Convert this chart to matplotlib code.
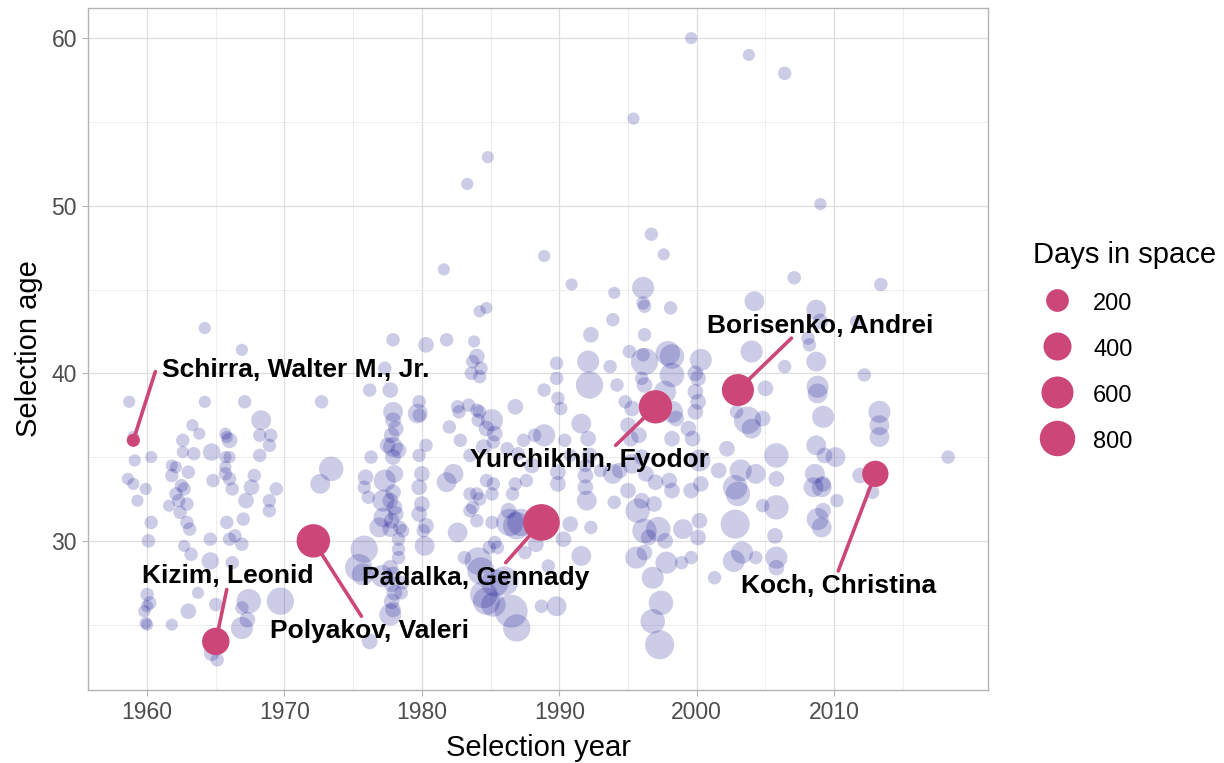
import matplotlib
matplotlib.use("Agg")
from matplotlib import pyplot as plt
from matplotlib.lines import Line2D
import numpy as np

plt.rcParams['font.family'] = ['Liberation Sans', 'DejaVu Sans']

# all astronauts (grouped roughly by era)
year = [
    1958.7, 1959.0, 1959.1, 1960.3, 1958.6, 1959.0, 1959.9, 1959.3, 1960.3, 1960.1, 1960.0, 1960.2, 1959.8, 1960.0, 1960.0, 1959.9,
    1964.2, 1966.9, 1964.2, 1967.1, 1968.3, 1963.3, 1963.8, 1965.7, 1966.0, 1965.8, 1968.2, 1969.0, 1968.9, 1962.6, 1962.6, 1963.4,
    1964.7, 1965.7, 1966.0, 1968.2, 1962.1, 1965.7, 1961.8, 1961.8, 1963.0, 1962.5, 1962.7, 1962.1, 1962.3, 1961.6, 1962.9, 1962.4,
    1962.9, 1963.1, 1964.6, 1966.0, 1966.4, 1966.9, 1965.8, 1967.0, 1962.7, 1963.2, 1964.6, 1966.2, 1964.8, 1965.7, 1966.0, 1966.2,
    1967.6, 1967.8, 1967.2, 1968.9, 1968.9, 1969.4, 1967.4, 1969.7, 1966.9, 1967.3, 1966.9, 1965.0, 1963.7, 1963.0, 1961.8, 1965.1,
    1964.7,
    1972.7, 1973.4, 1972.6, 1975.8, 1975.4, 1975.7, 1977.1, 1977.7, 1976.2, 1975.9, 1975.8, 1976.1, 1977.3, 1977.9, 1977.7, 1976.2,
    1977.9, 1977.9, 1978.1, 1977.8, 1977.9, 1978.3, 1977.5, 1977.9, 1978.0, 1977.9, 1977.7, 1978.0, 1978.1, 1977.8, 1977.7, 1978.4,
    1977.3, 1977.2, 1977.2, 1976.9, 1978.6, 1978.3, 1978.3, 1978.3, 1977.7, 1977.9, 1977.8, 1978.0, 1977.8, 1977.9, 1978.6, 1978.5,
    1976.3, 1979.8, 1979.7, 1979.8, 1980.3, 1979.8, 1980.3, 1980.0, 1979.8, 1980.0, 1979.8, 1980.3, 1980.1, 1980.2,
    1981.6, 1984.2, 1984.7, 1981.8, 1983.8, 1984.0, 1983.7, 1984.3, 1983.6, 1984.2, 1982.0, 1982.6, 1982.7, 1983.4, 1984.0, 1984.1,
    1984.2, 1985.1, 1984.7, 1985.3, 1986.8, 1987.4, 1988.2, 1984.8, 1983.3, 1981.8, 1982.3, 1982.6, 1983.1, 1983.5, 1984.0, 1984.2,
    1983.7, 1983.5, 1984.7, 1985.2, 1985.1, 1984.0, 1985.1, 1984.9, 1985.3, 1984.1, 1984.3, 1985.3, 1984.5, 1984.7, 1985.2, 1986.0,
    1986.5, 1986.9, 1986.4, 1986.9, 1987.2, 1986.3, 1985.5, 1986.8, 1986.6, 1987.6, 1988.9, 1988.9, 1989.8, 1989.8, 1989.9, 1990.1,
    1988.9, 1989.9, 1989.9, 1990.3, 1989.8, 1988.7, 1989.2, 1982.8, 1983.5, 1984.5, 1985.2, 1986.2, 1987.0, 1988.0, 1988.3, 1987.5,
    1990.9, 1994.0, 1996.1, 1996.2, 1996.1, 1998.1, 1993.9, 1992.3, 1996.2, 1995.1, 1992.1, 1993.7, 1996.2, 1996.1, 1997.9, 1998.2,
    2000.3, 1994.2, 1992.2, 1996.0, 1996.2, 1998.2, 1999.9, 2000.1, 1994.8, 1995.3, 1997.7, 1998.2, 1998.5, 1999.9, 2000.1, 1999.9,
    1991.6, 1992.1, 1995.0, 1995.2, 1995.8, 1998.2, 1999.4, 1999.7, 1995.4, 1996.7, 1997.6, 1999.6, 1991.9, 1991.9, 1992.0, 1993.9,
    1994.0, 1995.7, 1996.0, 1996.9, 1996.2, 1997.2, 1996.5, 1997.7, 1995.6, 1996.2, 1996.8, 1997.8, 1997.4, 1996.8, 1997.3, 1999.0,
    2000.2, 2000.1, 1998.9, 1999.6, 1998.2, 1998.0, 1990.4, 1990.8, 1992.2, 1991.9, 1993.0, 1994.4, 1995.3, 1996.3, 1997.0, 1995.0,
    1996.0, 1991.6, 1992.3, 1990.8,
    2003.8, 2006.4, 2009.0, 2007.1, 2013.4, 2004.2, 2008.7, 2009.0, 2011.6, 2008.1, 2008.2, 2004.0, 2008.7, 2006.4, 2012.2, 2008.8,
    2008.8, 2009.2, 2013.3, 2013.3, 2013.3, 2008.7, 2005.8, 2009.3, 2010.1, 2018.3, 2005.0, 2004.8, 2002.9, 2003.7, 2004.0, 2005.8,
    2005.8, 2005.7, 2005.8, 2005.8, 2008.5, 2009.1, 2009.2, 2008.6, 2009.2, 2008.8, 2009.1, 2010.2, 2011.9, 2012.8, 2001.3, 2002.8,
    2003.3, 2002.7, 2004.3, 2003.0, 2002.8, 2004.8, 2000.3, 1999.6, 2000.2, 2001.6, 2003.2, 2004.3, 2002.2,
]
age = [
    38.3, 36.2, 34.8, 35.0, 33.7, 33.4, 33.1, 32.4, 31.1, 30.0, 26.8, 26.3, 25.8, 25.0, 26.1, 25.1,
    42.7, 41.4, 38.3, 38.3, 37.2, 36.9, 36.4, 36.4, 36.0, 36.2, 36.3, 36.3, 35.7, 36.0, 35.3, 35.2,
    35.3, 35.0, 35.0, 35.1, 34.4, 34.4, 33.9, 34.5, 34.1, 33.3, 33.1, 32.8, 32.4, 32.1, 32.2, 31.7,
    31.1, 30.7, 30.1, 30.1, 30.3, 29.8, 31.1, 31.3, 29.7, 29.2, 28.8, 28.7, 33.6, 34.0, 33.7, 33.1,
    33.2, 33.9, 32.4, 32.4, 31.8, 33.1, 26.4, 26.4, 24.8, 25.3, 26.0, 26.2, 26.9, 25.8, 25.0, 22.9,
    23.3,
    38.3, 34.3, 33.4, 29.5, 28.4, 28.0, 27.9, 25.6, 24.0, 33.8, 33.2, 32.6, 40.3, 42.0, 39.0, 39.0,
    37.7, 37.2, 36.7, 36.3, 35.6, 35.4, 35.7, 35.0, 34.0, 32.9, 32.4, 32.0, 31.6, 31.2, 30.7, 30.8,
    33.6, 32.4, 31.4, 30.8, 30.6, 30.1, 29.5, 29.0, 28.4, 28.0, 27.4, 26.9, 26.4, 25.9, 27.5, 26.9,
    35.0, 38.3, 37.6, 37.5, 35.7, 35.1, 41.7, 34.0, 33.2, 32.2, 31.6, 30.9, 30.6, 29.7,
    46.2, 43.7, 43.9, 42.0, 41.9, 41.0, 40.7, 40.3, 40.0, 39.8, 36.8, 38.0, 37.7, 38.1, 37.8, 37.2,
    37.7, 37.2, 36.7, 36.4, 38.0, 36.0, 36.3, 52.9, 51.3, 33.5, 34.0, 30.5, 29.0, 32.8, 32.8, 32.5,
    32.0, 31.8, 33.6, 33.4, 32.8, 31.2, 31.1, 29.6, 29.9, 28.8, 28.2, 27.5, 26.8, 26.4, 26.2, 27.6,
    25.8, 24.8, 31.1, 30.9, 31.1, 31.8, 29.6, 33.4, 32.8, 33.6, 47.0, 39.0, 40.6, 39.7, 38.5, 37.9,
    36.3, 34.1, 33.4, 30.1, 26.1, 26.1, 28.5, 36.0, 35.1, 35.6, 35.9, 35.5, 35.2, 34.5, 29.8, 29.3,
    45.3, 44.8, 45.1, 44.0, 44.2, 43.9, 43.2, 42.3, 42.3, 41.3, 40.7, 40.4, 40.7, 41.1, 41.2, 41.0,
    40.8, 39.3, 39.3, 39.7, 39.3, 39.9, 40.0, 39.7, 38.3, 37.9, 38.9, 37.7, 37.3, 38.9, 38.3, 37.7,
    37.0, 36.1, 36.9, 36.1, 36.3, 36.1, 36.7, 36.1, 55.2, 48.3, 47.1, 60.0, 33.9, 33.2, 32.4, 34.0,
    32.3, 31.8, 32.4, 32.2, 30.6, 30.7, 30.2, 30.0, 29.0, 29.3, 27.8, 28.7, 26.3, 25.2, 23.8, 30.7,
    31.2, 30.2, 28.7, 29.0, 33.0, 33.6, 36.0, 35.1, 35.1, 34.5, 34.2, 34.2, 34.6, 34.0, 33.5, 33.0,
    35.0, 29.1, 30.8, 31.0,
    59.0, 57.9, 50.1, 45.7, 45.3, 44.3, 43.8, 43.1, 43.1, 42.1, 41.7, 41.3, 40.7, 40.4, 39.9, 39.2,
    38.8, 37.4, 37.7, 36.9, 36.2, 35.7, 35.1, 35.1, 35.0, 35.0, 39.1, 37.3, 37.7, 37.2, 36.7, 33.7,
    32.0, 30.3, 29.0, 28.4, 33.2, 33.2, 33.4, 34.0, 31.8, 31.3, 30.8, 32.4, 33.9, 32.9, 27.8, 31.0,
    29.3, 28.8, 29.0, 32.8, 33.2, 32.1, 33.4, 33.0, 34.8, 34.2, 34.2, 34.0, 35.5,
]
days = [
    6, 6, 6, 6, 6, 6, 6, 6, 15, 15, 15, 15, 6, 6, 6, 6,
    6, 6, 6, 15, 120, 6, 6, 6, 40, 6, 15, 15, 15, 15, 6, 15,
    70, 6, 6, 15, 6, 6, 15, 6, 15, 15, 15, 15, 15, 6, 15, 15,
    15, 15, 15, 15, 15, 15, 15, 15, 6, 15, 70, 15, 15, 15, 15, 15,
    40, 15, 40, 15, 15, 15, 260, 370, 180, 40, 15, 15, 6, 40, 6, 15,
    40,
    15, 260, 120, 370, 370, 180, 180, 180, 40, 40, 15, 15, 15, 15, 40, 15,
    120, 40, 40, 40, 120, 40, 40, 40, 70, 40, 40, 40, 40, 40, 40, 15,
    180, 180, 120, 120, 15, 15, 15, 15, 40, 40, 40, 40, 40, 40, 15, 15,
    15, 15, 120, 15, 15, 15, 40, 40, 40, 40, 40, 40, 15, 120,
    6, 6, 6, 15, 6, 40, 15, 15, 15, 15, 15, 15, 15, 15, 15, 15,
    15, 180, 40, 40, 40, 15, 15, 6, 6, 120, 120, 120, 15, 15, 15, 15,
    15, 15, 15, 15, 15, 15, 15, 15, 15, 370, 370, 370, 370, 370, 260, 450,
    650, 370, 370, 370, 370, 40, 15, 15, 15, 15, 6, 15, 15, 15, 15, 15,
    180, 40, 40, 40, 120, 15, 15, 15, 15, 40, 15, 15, 15, 40, 40, 15,
    6, 6, 180, 15, 15, 15, 15, 40, 15, 15, 180, 15, 370, 15, 260, 260,
    180, 15, 370, 15, 40, 260, 40, 40, 15, 40, 180, 180, 40, 40, 40, 40,
    120, 40, 40, 40, 40, 40, 40, 40, 6, 15, 6, 6, 40, 40, 120, 120,
    15, 260, 40, 40, 260, 260, 40, 40, 180, 40, 180, 180, 260, 260, 450, 120,
    40, 40, 15, 15, 40, 40, 15, 15, 40, 15, 15, 40, 120, 40, 40, 40,
    40, 120, 15, 40,
    6, 15, 6, 15, 15, 120, 120, 40, 6, 15, 15, 180, 120, 15, 15, 180,
    120, 180, 180, 120, 120, 120, 260, 40, 120, 15, 40, 40, 15, 370, 120, 40,
    260, 40, 180, 40, 120, 120, 40, 120, 40, 180, 120, 15, 40, 15, 15, 450,
    180, 180, 15, 260, 260, 15, 40, 40, 180, 40, 180, 120, 40,
]

# highlighted astronauts
hl_name = ["Schirra, Walter M., Jr.", "Kizim, Leonid", "Polyakov, Valeri", "Padalka, Gennady",
           "Yurchikhin, Fyodor", "Borisenko, Andrei", "Koch, Christina"]
hl_year = [1959.0, 1965.0, 1972.1, 1988.7, 1997.0, 2003.0, 2013.0]
hl_age = [36.0, 24.0, 30.0, 31.1, 38.0, 39.0, 34.0]
hl_days = [12, 374, 678, 878, 673, 600, 328]

# label placement (text centre) and segment end, in data units
lab_x = [1970.8, 1965.9, 1976.2, 1983.9, 1992.2, 2009.0, 2010.3]
lab_y = [40.2, 27.9, 24.6, 27.8, 34.8, 42.8, 27.3]
seg_x = [1960.6, 1965.8, 1975.6, 1986.1, 1994.1, 2006.9, 2010.3]
seg_y = [40.1, 27.1, 25.5, 28.7, 35.7, 42.1, 28.2]

legend_days = [200, 400, 600, 800]

HL = "#CC4678"
PX = 0.72  # points per pixel at dpi 100


def diam(d):
    return 10 + 0.9 * np.sqrt(np.asarray(d, dtype=float))


fig = plt.figure(figsize=(12.24, 7.63), dpi=100)
ax = fig.add_axes([88 / 1224, 1 - 690 / 763, 900 / 1224, 682 / 763])

ax.scatter(year, age, s=(diam(days) * PX) ** 2, color="darkblue", alpha=0.2,
           linewidths=0, zorder=2)

for i in range(len(hl_name)):
    ax.plot([hl_year[i], seg_x[i]], [hl_age[i], seg_y[i]], color=HL, lw=2.6,
            solid_capstyle="round", zorder=3)
ax.scatter(hl_year, hl_age, s=(diam(hl_days) * PX) ** 2, color=HL, linewidths=0, zorder=4)
for i in range(len(hl_name)):
    ax.text(lab_x[i], lab_y[i], hl_name[i], ha="center", va="center",
            fontsize=19, fontweight="bold", color="black", zorder=5)

ax.set_xticks([1960, 1970, 1980, 1990, 2000, 2010])
ax.set_yticks([30, 40, 50, 60])
ax.set_xticks(np.arange(1965, 2016, 10), minor=True)
ax.set_yticks([25, 35, 45, 55], minor=True)
ax.set_xlim(1955.7, 2021.2)
ax.set_ylim(21.1, 61.8)
ax.grid(True, which="major", color="#DEDEDE", lw=0.9, zorder=0)
ax.grid(True, which="minor", color="#EBEBEB", lw=0.6, zorder=0)
ax.set_axisbelow(True)
for sp in ax.spines.values():
    sp.set_color("#B3B3B3")
    sp.set_linewidth(1.0)
ax.tick_params(which="major", length=4, pad=4, color="#B3B3B3", labelsize=16.5,
               labelcolor="#4D4D4D")
ax.tick_params(which="minor", length=0)
ax.set_xlabel("Selection year", fontsize=21, labelpad=7)
ax.set_ylabel("Selection age", fontsize=21, labelpad=6)

handles = [Line2D([], [], ls="", marker="o", markersize=diam(d) * PX, color=HL, mec="none")
           for d in legend_days]
leg = fig.legend(handles, [str(d) for d in legend_days], title="Days in space",
                 loc="upper left", bbox_to_anchor=(1033 / 1224, 1 - 241 / 763),
                 frameon=False, fontsize=17, title_fontsize=21, borderpad=0,
                 borderaxespad=0, handleheight=1.3, labelspacing=0.86,
                 handlelength=2.0, handletextpad=0.55)
leg._legend_box.align = "left"

fig.savefig("out.png", dpi=100)
